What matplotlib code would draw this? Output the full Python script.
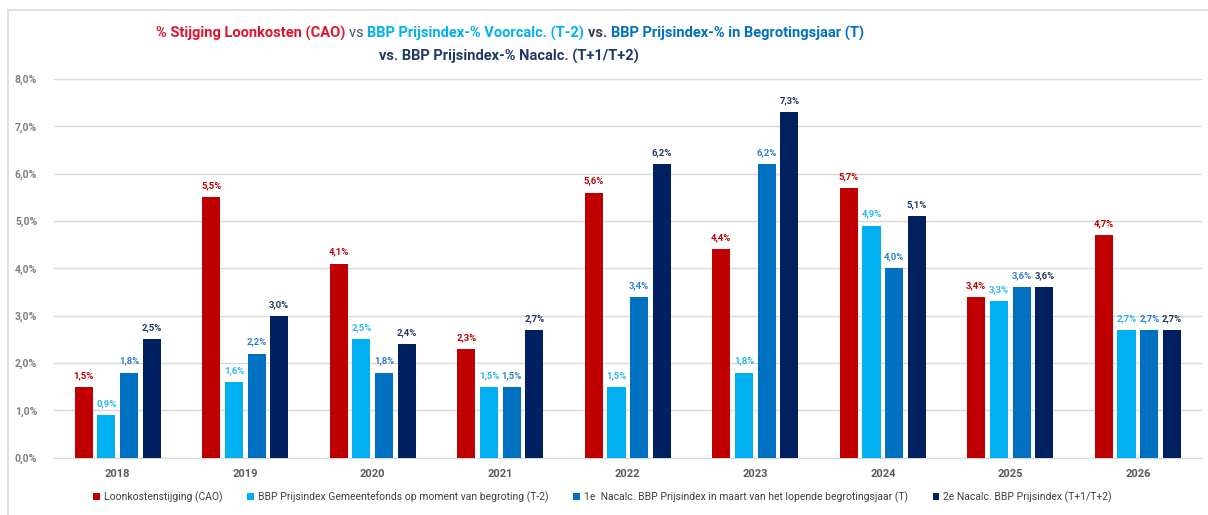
import matplotlib
matplotlib.use("Agg")
import matplotlib.pyplot as plt
from matplotlib.lines import Line2D
import numpy as np

plt.rcParams['font.family'] = ['Roboto', 'DejaVu Sans']

years = ["2018", "2019", "2020", "2021", "2022", "2023", "2024", "2025", "2026"]
loonkosten = [1.5, 5.5, 4.1, 2.3, 5.6, 4.4, 5.7, 3.4, 4.7]
voorcalc = [0.9, 1.6, 2.5, 1.5, 1.5, 1.8, 4.9, 3.3, 2.7]
nacalc1 = [1.8, 2.2, 1.8, 1.5, 3.4, 6.2, 4.0, 3.6, 2.7]
nacalc2 = [2.5, 3.0, 2.4, 2.7, 6.2, 7.3, 5.1, 3.6, 2.7]

series_names = [
    "Loonkostenstijging (CAO)",
    "BBP Prijsindex Gemeentefonds op moment van begroting (T-2)",
    "1e  Nacalc. BBP Prijsindex in maart van het lopende begrotingsjaar (T)",
    "2e Nacalc. BBP Prijsindex (T+1/T+2)",
]
colors = ["#C00000", "#00B0F0", "#0070C0", "#002060"]
label_colors = ["#C00000", "#29B6F0", "#2E7FC9", "#1F3864"]

fig = plt.figure(figsize=(12.08, 5.15), dpi=100)
ax = fig.add_axes([0.0447, 0.111, 0.95, 0.736])

x = np.arange(len(years))
step = 0.178
width = 0.142
all_series = [loonkosten, voorcalc, nacalc1, nacalc2]
for i, (vals, name) in enumerate(zip(all_series, series_names)):
    pos = x + (i - 1.5) * step
    ax.bar(pos, vals, width, color=colors[i], label=name, zorder=3)
    for px, v in zip(pos, vals):
        ax.annotate(f"{v:.1f}%".replace(".", ","), (px, v), xytext=(0, 5),
                    textcoords="offset points", ha="center", va="bottom",
                    fontsize=6.8, fontweight="bold", color=label_colors[i])

ax.set_xlim(-0.5, 8.5)
ax.set_ylim(0, 8)
ax.set_yticks(np.arange(0, 9, 1))
ax.set_yticklabels([f"{t:.1f}%".replace(".", ",") for t in range(9)],
                   fontsize=7.5, color="#7F7F7F", fontweight="bold")
ax.set_xticks(x)
ax.set_xticklabels(years, fontsize=8, color="#595959", fontweight="bold")
ax.tick_params(axis="both", length=0)
ax.tick_params(axis="y", pad=12)
ax.tick_params(axis="x", pad=8)
ax.grid(axis="y", color="#D9D9D9", linewidth=1, zorder=0)
for s in ["top", "right", "left"]:
    ax.spines[s].set_visible(False)
ax.spines["bottom"].set_color("#D9D9D9")

ax.legend(loc="center", bbox_to_anchor=(0.478, -0.103), ncol=4, frameon=False,
          fontsize=7.5, handlelength=0.6, handleheight=0.6, handletextpad=0.4,
          columnspacing=2.4, labelcolor="#404040")

# frame lines (light grey border around chart area)
fig.add_artist(Line2D([8 / 1208, 1], [1 - 10 / 515, 1 - 10 / 515],
                      transform=fig.transFigure, color="#D9D9D9", lw=1.2))
fig.add_artist(Line2D([8 / 1208, 8 / 1208], [0, 1 - 10 / 515],
                      transform=fig.transFigure, color="#D9D9D9", lw=1.2))

# multi-coloured title
renderer = fig.canvas.get_renderer()


def colored_line(parts, y, cx, size=10.5):
    texts = []
    for txt, col, weight in parts:
        t = fig.text(0, y, txt, color=col, fontsize=size, fontweight=weight,
                     ha="left", va="center")
        texts.append(t)
    widths = [t.get_window_extent(renderer).width for t in texts]
    total = sum(widths)
    start = cx * fig.bbox.width - total / 2
    for t, w in zip(texts, widths):
        t.set_x(start / fig.bbox.width)
        start += w


colored_line([
    ("% Stijging Loonkosten (CAO) ", "#E0142C", "bold"),
    ("vs ", "#44546A", "normal"),
    ("BBP Prijsindex-% Voorcalc. (T-2) ", "#00B0F0", "bold"),
    ("vs. ", "#333F50", "bold"),
    ("BBP Prijsindex-% in Begrotingsjaar (T)", "#0070C0", "bold"),
], 1 - 33 / 515, 510 / 1208)
colored_line([
    ("vs. BBP Prijsindex-% Nacalc. (T+1/T+2)", "#1F3864", "bold"),
], 1 - 56 / 515, 509 / 1208)

fig.savefig("out.png", dpi=100)
